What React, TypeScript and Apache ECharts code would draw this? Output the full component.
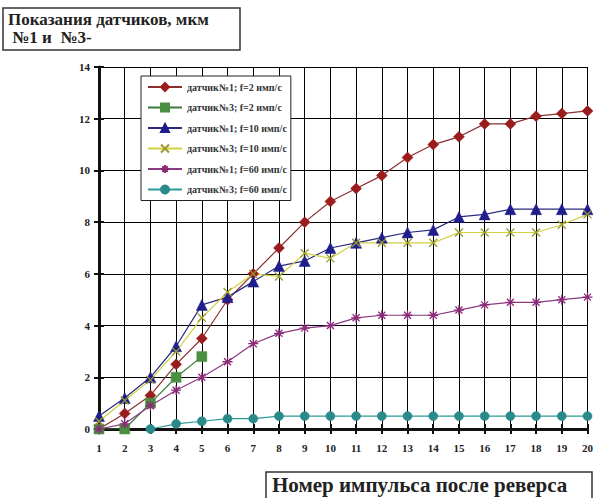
import React, { useEffect, useRef } from "react";
import * as echarts from "echarts";

const categories = ["1","2","3","4","5","6","7","8","9","10","11","12","13","14","15","16","17","18","19","20"];
const s1f2 = [0, 0.6, 1.3, 2.5, 3.5, 5.0, 6.0, 7.0, 8.0, 8.8, 9.3, 9.8, 10.5, 11.0, 11.3, 11.8, 11.8, 12.1, 12.2, 12.3];
const s3f2 = [0, 0, 1.0, 2.0, 2.8, null, null, null, null, null, null, null, null, null, null, null, null, null, null, null];
const s1f10 = [0.5, 1.2, 2.0, 3.2, 4.8, 5.1, 5.7, 6.3, 6.5, 7.0, 7.2, 7.4, 7.6, 7.7, 8.2, 8.3, 8.5, 8.5, 8.5, 8.5];
const s3f10 = [0.3, 1.1, 1.9, 3.0, 4.3, 5.3, 6.0, 5.9, 6.8, 6.6, 7.2, 7.2, 7.2, 7.2, 7.6, 7.6, 7.6, 7.6, 7.9, 8.3];
const s1f60 = [0, 0.2, 0.9, 1.5, 2.0, 2.6, 3.3, 3.7, 3.9, 4.0, 4.3, 4.4, 4.4, 4.4, 4.6, 4.8, 4.9, 4.9, 5.0, 5.1];
const s3f60 = [null, null, 0, 0.2, 0.3, 0.4, 0.4, 0.5, 0.5, 0.5, 0.5, 0.5, 0.5, 0.5, 0.5, 0.5, 0.5, 0.5, 0.5, 0.5];
const seriesNames = [
  "датчик№1; f=2 имп/с",
  "датчик№3; f=2 имп/с",
  "датчик№1; f=10 имп/с",
  "датчик№3; f=10 имп/с",
  "датчик№1; f=60 имп/с",
  "датчик№3; f=60 имп/с",
];
const yTicks = { min: 0, max: 14, interval: 2 };
const titleLines = ["Показания датчиков, мкм", " №1 и  №3-"];
const xAxisTitle = "Номер импульса после реверса";

const SERIF = "Liberation Serif";

export default function App() {
  const ref = useRef<HTMLDivElement>(null);
  useEffect(() => {
    if (!ref.current) return;
    const chart = echarts.init(ref.current, null, { renderer: "svg" });
    const mk = (name: string, data: any[], color: string, lineColor: string, symbol: string, size: number, stroke = false) => ({
      name,
      type: "line",
      data,
      symbol,
      symbolSize: size,
      showSymbol: true,
      connectNulls: false,
      lineStyle: { color: lineColor, width: 1.2 },
      itemStyle: stroke
        ? { color: color, borderColor: color, borderWidth: 1.3 }
        : { color: color, borderColor: color, borderWidth: 0.5 },
      z: 3,
    });
    const option: any = {
      animation: false,
      backgroundColor: "#ffffff",
      textStyle: { fontFamily: SERIF },
      grid: { left: 99, right: 6, top: 67, bottom: 69, containLabel: false },
      legend: {
        orient: "vertical",
        left: 141,
        top: 76,
        itemGap: 10.5,
        itemWidth: 34,
        itemHeight: 10,
        padding: [6, 4, 6, 6],
        backgroundColor: "#ffffff",
        borderColor: "#222",
        borderWidth: 1,
        textStyle: { fontFamily: SERIF, fontSize: 10, fontWeight: "bold", color: "#333" },
        data: seriesNames,
      },
      xAxis: [
        {
          type: "category",
          data: categories,
          boundaryGap: false,
          axisLine: { lineStyle: { color: "#111", width: 3 } },
          axisTick: { show: true, inside: false, length: 5, lineStyle: { color: "#111", width: 2 } },
          axisLabel: { fontFamily: SERIF, fontSize: 11, fontWeight: "bold", color: "#222", margin: 13 },
          splitLine: { show: true, lineStyle: { color: "#000", width: 1 } },
        },
        {
          type: "category",
          data: categories,
          boundaryGap: false,
          position: "bottom",
          axisLine: { show: false },
          axisTick: { show: true, inside: true, length: 5, lineStyle: { color: "#111", width: 2 } },
          axisLabel: { show: false },
          splitLine: { show: false },
        },
      ],
      yAxis: [
        {
          type: "value",
          min: yTicks.min,
          max: yTicks.max,
          interval: yTicks.interval,
          axisLine: { show: true, lineStyle: { color: "#111", width: 3 } },
          axisTick: { show: true, inside: false, length: 5, lineStyle: { color: "#111", width: 2 } },
          axisLabel: { fontFamily: SERIF, fontSize: 11, fontWeight: "bold", color: "#222", margin: 9 },
          splitLine: { show: true, lineStyle: { color: "#000", width: 1 } },
        },
        {
          type: "value",
          min: yTicks.min,
          max: yTicks.max,
          interval: yTicks.interval,
          position: "left",
          axisLine: { show: false },
          axisTick: { show: true, inside: true, length: 5, lineStyle: { color: "#111", width: 2 } },
          axisLabel: { show: false },
          splitLine: { show: false },
        },
      ],
      series: [
        mk(seriesNames[0], s1f2, "#9a1c1c", "#8a3030", "diamond", 11),
        mk(seriesNames[1], s3f2, "#4a9040", "#3a7a3a", "rect", 10),
        mk(seriesNames[2], s1f10, "#1e1e8c", "#2a2a80", "triangle", 11),
        mk(seriesNames[3], s3f10, "#9a9a30", "#d0d040", "path://M0,0L10,10M10,0L0,10", 8, true),
        mk(seriesNames[4], s1f60, "#8a2a78", "#8a3a80", "path://M5,0L5,10M0,5L10,5M1.5,1.5L8.5,8.5M8.5,1.5L1.5,8.5", 10, true),
        mk(seriesNames[5], s3f60, "#2a8a8a", "#2a9a9a", "circle", 9),
      ],
      graphic: [
        {
          type: "rect",
          shape: { x: 3, y: 8, width: 237, height: 42 },
          style: { fill: "#fff", stroke: "#333", lineWidth: 1.5 },
        },
        {
          type: "text",
          x: 8,
          y: 11,
          style: { text: titleLines[0], fontFamily: SERIF, fontWeight: "bold", fontSize: 17, fill: "#222" },
        },
        {
          type: "text",
          x: 8,
          y: 29,
          style: { text: titleLines[1], fontFamily: SERIF, fontWeight: "bold", fontSize: 17, fill: "#222" },
        },
        {
          type: "rect",
          shape: { x: 266, y: 472, width: 326, height: 30 },
          style: { fill: "#fff", stroke: "#333", lineWidth: 1.5 },
        },
        {
          type: "text",
          x: 272,
          y: 474,
          style: { text: xAxisTitle, fontFamily: SERIF, fontWeight: "bold", fontSize: 21, fill: "#222" },
        },
      ],
    };
    chart.setOption(option);
    return () => chart.dispose();
  }, []);
  return <div ref={ref} style={{ width: 596, height: 498, position: "absolute", left: 0, top: 0 }} />;
}
